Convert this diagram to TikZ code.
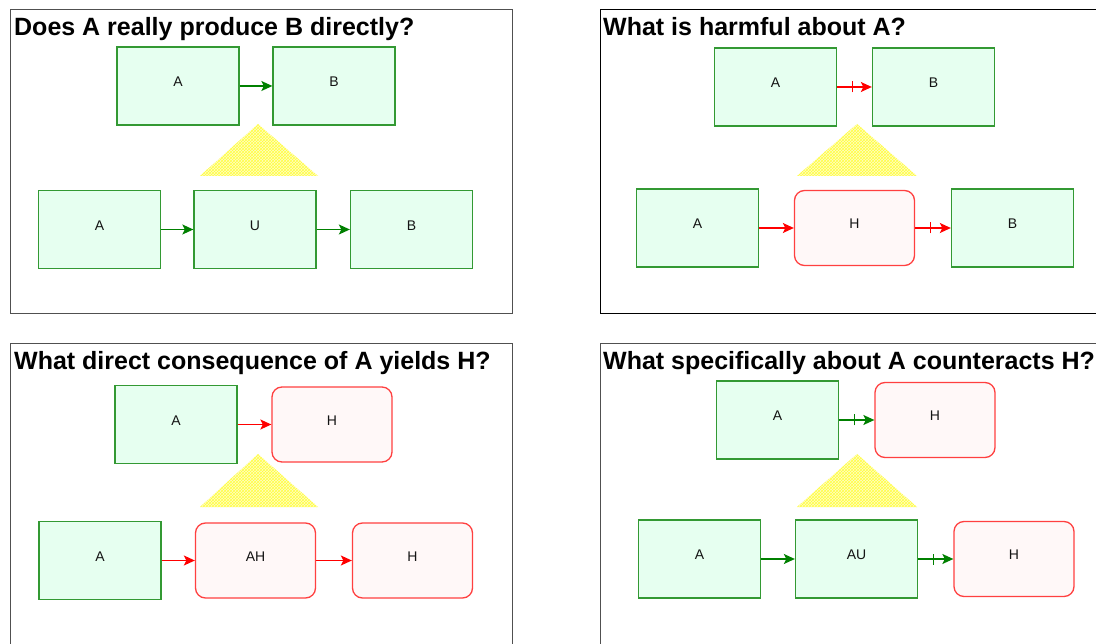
\documentclass[tikz,border=0pt]{standalone}
\usepackage{fontspec}
\setmainfont{Liberation Sans}
\usetikzlibrary{arrows.meta,patterns,decorations.markings}

\definecolor{okline}{RGB}{51,153,51}
\definecolor{okfill}{RGB}{230,255,240}
\definecolor{badline}{RGB}{255,64,64}
\definecolor{badfill}{RGB}{255,248,248}
\definecolor{arrowgreen}{RGB}{0,128,0}
\definecolor{framegray}{RGB}{80,80,80}
\definecolor{textgray}{RGB}{20,20,20}

\tikzset{
  okbox/.style={draw=okline, fill=okfill, line width=1.3pt, minimum width=122pt,
    minimum height=78pt, inner sep=0pt, text=textgray, text depth=8pt,
    font=\fontsize{14}{16}\selectfont},
  badbox/.style={okbox, draw=badline, fill=badfill, rounded corners=10pt,
    minimum width=120pt, minimum height=75pt},
  goodarrow/.style={-{Stealth[length=11pt,width=10pt,inset=2.5pt]}, draw=arrowgreen, line width=1.3pt},
  badarrow/.style={goodarrow, draw=red},
  blocked/.style={postaction={decorate}, decoration={markings,
    mark=at position 0.44 with {\draw[-,#1,line width=1.2pt] (0,-5.5pt) -- (0,5.5pt);}}},
  title/.style={anchor=base west, inner sep=0pt, font=\fontsize{25}{29}\selectfont\bfseries},
  frame/.style={draw=framegray, line width=1pt},
  hatch/.style={preaction={fill=yellow!22}, pattern=crosshatch, pattern color=yellow!75}
}

\begin{document}
\begin{tikzpicture}[x=1pt,y=-1pt]
\useasboundingbox (0,0) rectangle (1096,644);
\clip (0,0) rectangle (1096,644);
\fill[white] (0,0) rectangle (1096,644);

%panel 1
\draw[frame] (10,10) rectangle (512,314);
\node[title] (title_1) at (14,36) {Does A really produce B directly?};
\node[okbox] (topA_1) at (178,86) {A};
\node[okbox] (topB_1) at (334,86) {B};
\fill[hatch] (200,176) -- (258,124) -- (318,176) -- cycle;
\node[okbox] (botA_1) at (99.5,229.5) {A};
\node[okbox] (botU_1) at (255,229.5) {U};
\node[okbox] (botB_1) at (411.5,229.5) {B};
\draw[goodarrow] (topA_1) -- (topB_1);
\draw[goodarrow] (botA_1) -- (botU_1);
\draw[goodarrow] (botU_1) -- (botB_1);

%panel 2
\draw[frame, draw=black] (600,10) rectangle (1120,314);
\node[title] (title_2) at (603,36) {What is harmful about A?};
\node[okbox] (topA_2) at (775.5,87) {A};
\node[okbox] (topB_2) at (933.5,87) {B};
\fill[hatch] (797,176) -- (857,124) -- (917,176) -- cycle;
\node[okbox] (botA_2) at (697.5,228) {A};
\node[badbox] (botH_2) at (854.5,228) {H};
\node[okbox] (botB_2) at (1012.5,228) {B};
\draw[badarrow, blocked=red] (topA_2) -- (topB_2);
\draw[badarrow] (botA_2) -- (botH_2);
\draw[badarrow, blocked=red] (botH_2) -- (botB_2);

%panel 3
\draw[frame] (10,344) rectangle (512,670);
\node[title] (title_3) at (14,370) {What direct consequence of A yields H?};
\node[okbox] (topA_3) at (176,424.5) {A};
\node[badbox] (topH_3) at (332,424.5) {H};
\fill[hatch] (200,507) -- (258,454) -- (318,507) -- cycle;
\node[okbox] (botA_3) at (100,560.5) {A};
\node[badbox] (botAH_3) at (255.5,560.5) {AH};
\node[badbox] (botH_3) at (412.5,560.5) {H};
\draw[badarrow] (topA_3) -- (topH_3);
\draw[badarrow] (botA_3) -- (botAH_3);
\draw[badarrow] (botAH_3) -- (botH_3);

%panel 4
\draw[frame] (600,344) rectangle (1120,670);
\node[title] (title_4) at (603,370) {What specifically about A counteracts H?};
\node[okbox] (topA_4) at (777.5,420) {A};
\node[badbox] (topH_4) at (935,420) {H};
\fill[hatch] (797,507) -- (857,454) -- (917,507) -- cycle;
\node[okbox] (botA_4) at (699.5,559) {A};
\node[okbox] (botAU_4) at (856.5,559) {AU};
\node[badbox] (botH_4) at (1014,559) {H};
\draw[goodarrow, blocked=arrowgreen] (topA_4) -- (topH_4);
\draw[goodarrow] (botA_4) -- (botAU_4);
\draw[goodarrow, blocked=arrowgreen] (botAU_4) -- (botH_4);
\end{tikzpicture}
\end{document}
